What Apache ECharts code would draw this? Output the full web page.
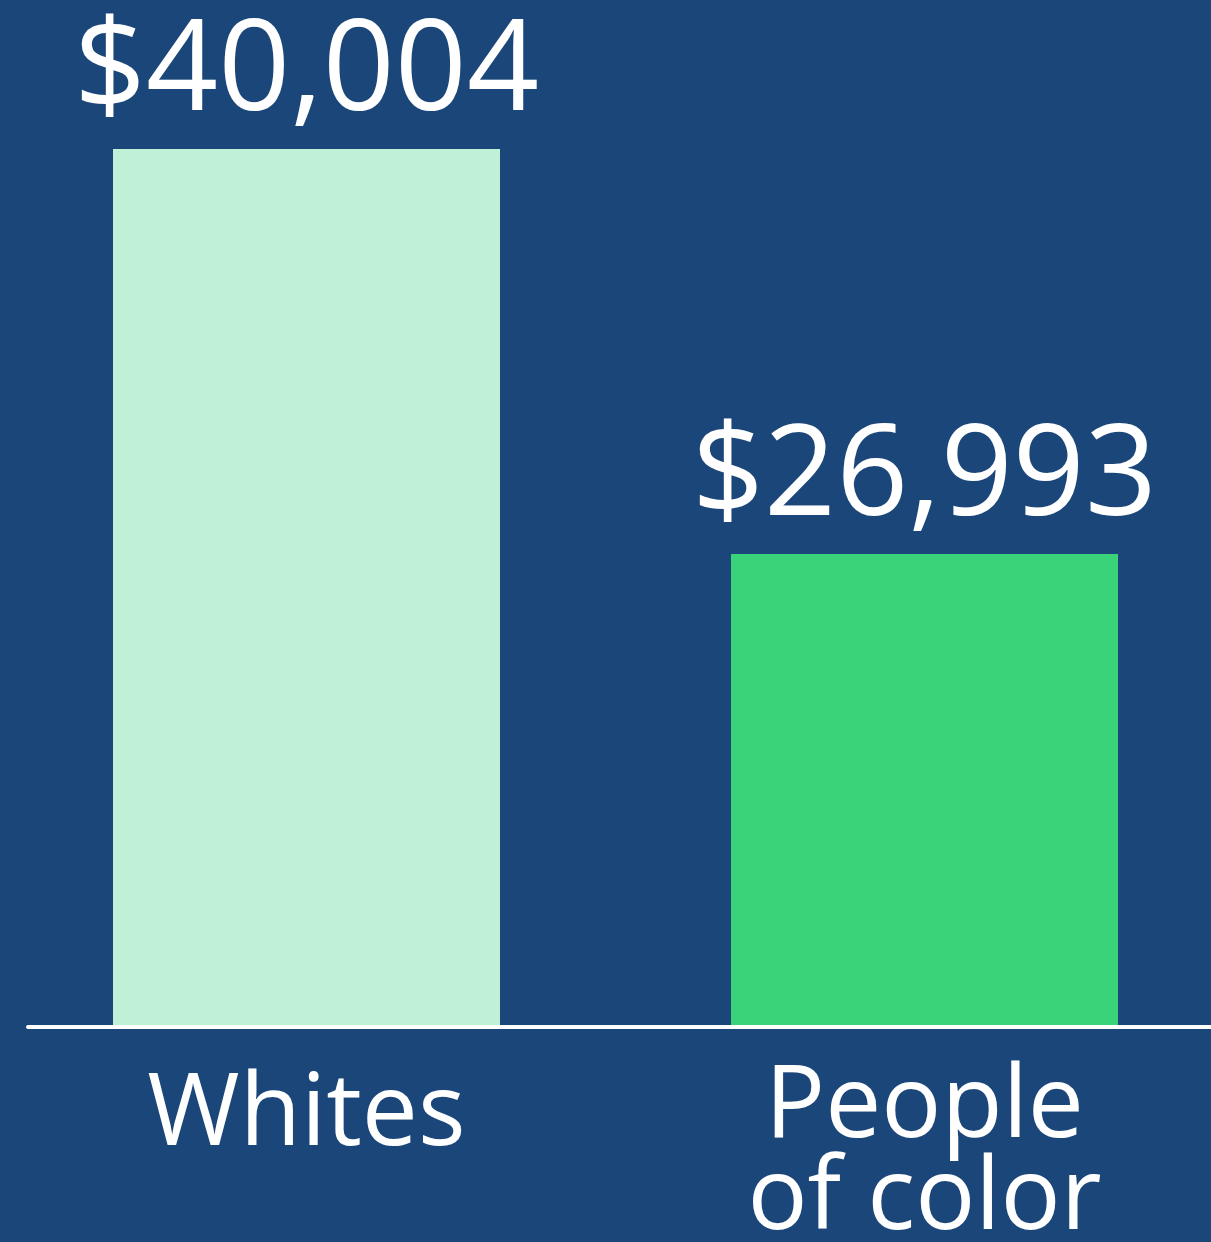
<!DOCTYPE html>
<html>
<head>
<meta charset="utf-8">
<title>Income by race</title>
<script src="https://cdn.jsdelivr.net/npm/echarts@6/dist/echarts.min.js"></script>
<style>
  html, body { margin: 0; padding: 0; background: #1b4679; }
  #chart { width: 1211px; height: 1242px; }
</style>
</head>
<body>
<div id="chart"></div>
<script>
const categories = ['Whites', 'People\nof color'];
const incomes = [40004, 26993];
const barColors = ['#c0f0d6', '#3ad379'];

const FONT = '"Open Sans", "Noto Sans", sans-serif';
const money = (value) => `$${Number(value).toLocaleString('en-US')}`;

const chart = echarts.init(document.getElementById('chart'));

chart.setOption({
  backgroundColor: '#1b4679',
  animation: false,
  grid: [
    { left: -2.5, right: -22.5, top: 149, bottom: 217, outerBoundsMode: 'none', containLabel: false },
    { left: 28, right: 0, top: 149, bottom: 215, outerBoundsMode: 'none', containLabel: false },
  ],
  xAxis: [
    {
      type: 'category',
      gridIndex: 0,
      data: categories.map((name, i) => ({
        value: name,
        textStyle: i === 0 ? { padding: [8, 0, 0, 0] } : {},
      })),
      axisLine: { show: false },
      axisTick: { show: false },
      axisLabel: {
        color: '#ffffff',
        fontFamily: FONT,
        fontWeight: 'normal',
        fontSize: 100,
        lineHeight: 92,
        margin: 38,
        interval: 0,
      },
    },
    {
      type: 'category',
      gridIndex: 1,
      data: categories,
      axisLine: { show: true, lineStyle: { color: '#ffffff', width: 4 } },
      axisTick: { show: false },
      axisLabel: { show: false },
    },
  ],
  yAxis: [
    { type: 'value', gridIndex: 0, min: 11863, max: 40004, show: false },
    { type: 'value', gridIndex: 1, show: false },
  ],
  series: [
    {
      type: 'bar',
      xAxisIndex: 0,
      yAxisIndex: 0,
      barWidth: 387,
      data: incomes.map((value, i) => ({ value, itemStyle: { color: barColors[i] } })),
      label: {
        show: true,
        position: 'top',
        distance: 12,
        color: '#ffffff',
        fontFamily: FONT,
        fontWeight: 'normal',
        fontSize: 126,
        lineHeight: 126,
        formatter: (p) => money(p.value),
      },
    },
  ],
});
</script>
</body>
</html>
